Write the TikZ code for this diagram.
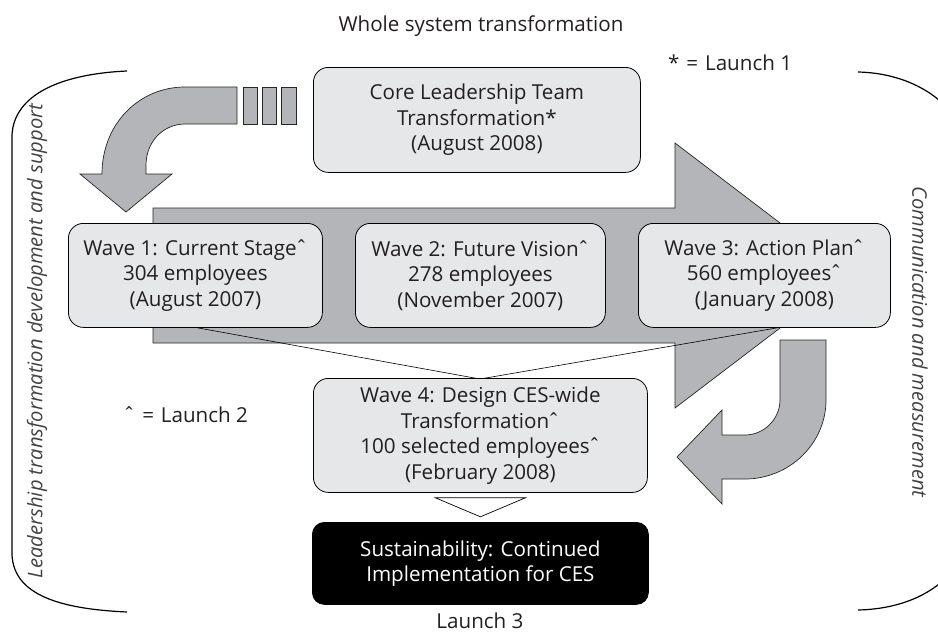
\documentclass[tikz,border=0pt]{standalone}
\usepackage{fontspec}
\setmainfont{Open Sans}
\usetikzlibrary{calc}
\definecolor{agrey}{RGB}{180,181,184}
\definecolor{bgrey}{RGB}{230,231,232}
\definecolor{tcol}{RGB}{35,31,32}
\newcommand{\hatmark}{\kern-1.5pt ˆ}
\begin{document}
\begin{tikzpicture}[x=1pt,y=-1pt,
  every node/.style={inner sep=0pt, text=tcol},
  bfont/.style={font=\fontsize{20.6}{25.5}\selectfont},
  box/.style={bfont, draw=black, line width=0.8pt, fill=bgrey, rounded corners=15pt, align=center, anchor=north west},
  garrow/.style={draw=black!85, line width=0.7pt, fill=agrey, line join=miter},
  bracket/.style={draw=black, line width=1.2pt},
  side/.style={font=\fontsize{20.2}{24}\selectfont\itshape, text=tcol!85}]
\useasboundingbox (0,0) rectangle (938,632);
\clip (0,0) rectangle (938,632);

% brackets
\draw[bracket] (127,71) .. controls (60,74) and (14,95) .. (12,135) -- (12,555) .. controls (14,595) and (60,609) .. (127,612);
\draw[bracket] (858,72) .. controls (905,73) and (950,95) .. (968,140) -- (968,545) .. controls (950,590) and (905,609) .. (858,610);

% side texts
\node[side, rotate=90] (lt) at (37,341) {Leadership transformation development and support};
\node[side, rotate=-90] (rt) at (920,342) {Communication and measurement};

% left curved arrow
\draw[garrow] (237,87) -- (185,87) .. controls (139,87) and (102,124) .. (102,174)
  -- (80,174) -- (126,212) -- (172,174) -- (146,174) -- (146,165)
  .. controls (146,142) and (163,124) .. (185,124) -- (237,124) -- cycle;
\draw[garrow] (243,87) rectangle (257,124);
\draw[garrow] (262,87) rectangle (276,124);
\draw[garrow] (281,87) rectangle (296,124);

% big arrow
\draw[garrow] (153,208) -- (675,208) -- (675,143) -- (849,275.5) -- (675,408) -- (675,343) -- (153,343) -- cycle;

% right curved arrow
\draw[garrow] (780,340) -- (826,340) -- (826,400) .. controls (826,444) and (789,479) .. (745,479)
  -- (722,479) -- (722,504) -- (677,457) -- (722,410) -- (722,435) -- (745,435)
  .. controls (764,435) and (780,419) .. (780,400) -- cycle;

% boxes
\node[box, minimum width=327pt, minimum height=105pt] (core) at (313,67)
  {Core Leadership Team\\Transformation*\\(August 2008)};
\node[box, minimum width=254pt, minimum height=104pt] (w1) at (68,223)
  {Wave 1: Current Stage\hatmark\\304 employees\\(August 2007)};
\node[box, minimum width=250pt, minimum height=104pt] (w2) at (355,223)
  {Wave 2: Future Vision\hatmark\\278 employees\\(November 2007)};
\node[box, minimum width=252pt, minimum height=104pt] (w3) at (638,223)
  {Wave 3: Action Plan\hatmark\\560 employees\hatmark\\(January 2008)};

% V lines
\draw[line width=0.6pt] ($(w1.south)+(2,0)$) -- (480,379) -- ($(w3.south)+(13,0)$);

\node[box, minimum width=334pt, minimum height=114pt] (w4) at (313,378)
  {Wave 4: Design CES-wide\\Transformation\hatmark\\100 selected employees\hatmark\\(February 2008)};

% triangle
\draw[line width=0.7pt, fill=white] ($(w4.south)+(-45,5)$) -- ($(w4.south)+(45,5)$) -- ($(w4.south)+(0,24)$) -- cycle;

\node[box, fill=black, rounded corners=12pt, minimum width=336pt, minimum height=82pt, text=white] (sus) at (312,522)
  {Sustainability: Continued\\Implementation for CES};

% labels
\node[bfont, anchor=base] (title) at (481,31) {Whole system transformation};
\node[bfont, anchor=base west] (l1) at (668,70) {*\,\,=\,\,Launch 1};
\node[bfont, anchor=base west] (l2) at (123,422) {ˆ\,\,=\,\,Launch 2};
\node[bfont, anchor=base] (l3) at (480,628) {Launch 3};
\end{tikzpicture}
\end{document}
